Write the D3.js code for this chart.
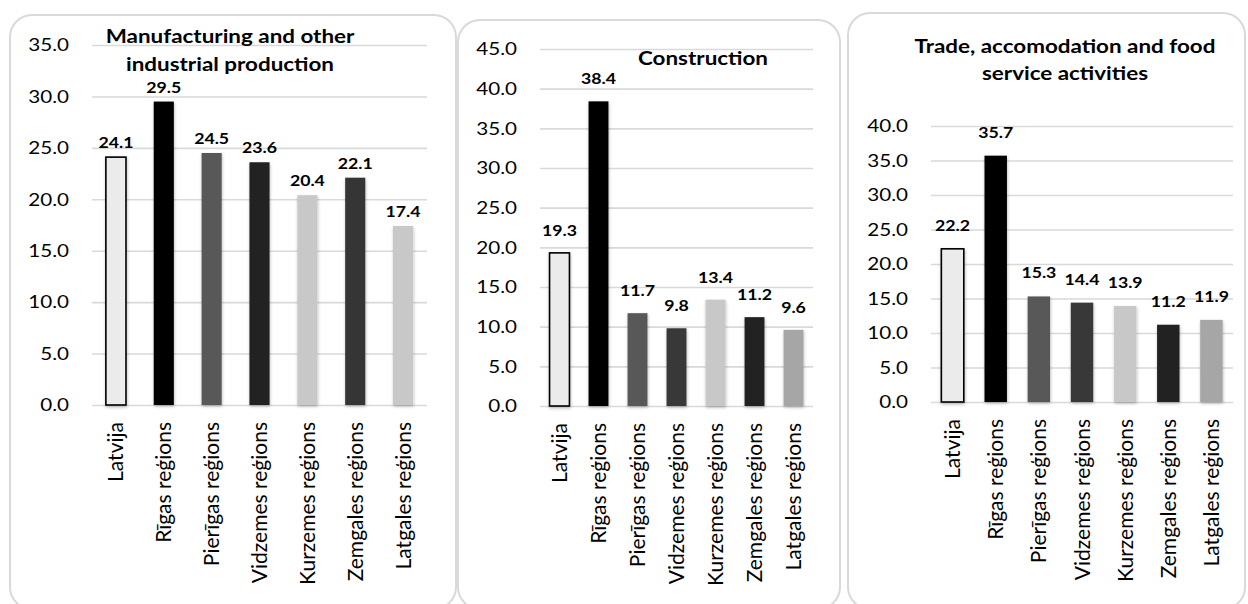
<!DOCTYPE html>
<html>
<head>
<meta charset="utf-8">
<script src="https://cdn.jsdelivr.net/npm/d3@7"></script>
<style>
  body { margin: 0; background: #fff; }
  svg { display: block; font-family: Lato, "Open Sans", sans-serif; }
  .tick-label { font-size: 17.5px; fill: #000; }
  .cat-label { font-size: 21px; fill: #000; }
  .value-label { font-size: 15px; font-weight: 700; fill: #000; }
  .chart-title { font-size: 19px; font-weight: 700; fill: #000; }
</style>
</head>
<body>
<div id="chart"></div>
<script>
const categories = ['Latvija', 'Rīgas reģions', 'Pierīgas reģions', 'Vidzemes reģions',
  'Kurzemes reģions', 'Zemgales reģions', 'Latgales reģions'];

const manufacturingTitle = ['Manufacturing and other', 'industrial production'];
const manufacturing = [24.1, 29.5, 24.5, 23.6, 20.4, 22.1, 17.4];
const manufacturingTicks = [0, 5, 10, 15, 20, 25, 30, 35];

const constructionTitle = ['Construction'];
const construction = [19.3, 38.4, 11.7, 9.8, 13.4, 11.2, 9.6];
const constructionTicks = [0, 5, 10, 15, 20, 25, 30, 35, 40, 45];

const tradeTitle = ['Trade, accomodation and food', 'service activities'];
const trade = [22.2, 35.7, 15.3, 14.4, 13.9, 11.2, 11.9];
const tradeTicks = [0, 5, 10, 15, 20, 25, 30, 35, 40];

// bar fills per panel (first bar is outlined)
const fillsA = ['#ebebeb', '#000000', '#595959', '#222222', '#c8c8c8', '#363636', '#c8c8c8'];
const fillsB = ['#ebebeb', '#000000', '#595959', '#383838', '#c8c8c8', '#222222', '#a6a6a6'];

// horizontal text in the source is a bit wider than tall
const SX = 1.18;

const width = 1248;
const height = 604;

const svg = d3.select('#chart').append('svg')
  .attr('width', width)
  .attr('height', height);

const defs = svg.append('defs');
defs.append('filter')
  .attr('id', 'barShadow')
  .attr('x', '-30%').attr('y', '-10%')
  .attr('width', '160%').attr('height', '120%')
  .append('feDropShadow')
  .attr('dx', 0.5)
  .attr('dy', 1.5)
  .attr('stdDeviation', 1.6)
  .attr('flood-color', '#000')
  .attr('flood-opacity', 0.28);

const panels = [
  {
    title: manufacturingTitle, values: manufacturing, ticks: manufacturingTicks, fills: fillsA,
    box: { x: 10, y: 15, w: 446, h: 594 },
    plot: { left: 92, right: 427, top: 45, bottom: 405 },
    titleX: 230, titleY: 43, titleLead: 28, labelGap: 9, pad: 0.58
  },
  {
    title: constructionTitle, values: construction, ticks: constructionTicks, fills: fillsB,
    box: { x: 458, y: 20, w: 382, h: 589 },
    plot: { left: 540, right: 813, top: 49, bottom: 406 },
    titleX: 703, titleY: 65, titleLead: 28, labelGap: 17, pad: 0.49
  },
  {
    title: tradeTitle, values: trade, ticks: tradeTicks, fills: fillsB,
    box: { x: 848, y: 13, w: 397, h: 596 },
    plot: { left: 931, right: 1233, top: 126, bottom: 402 },
    titleX: 1065, titleY: 53, titleLead: 27, labelGap: 18, pad: 0.48
  }
];

function wideText(parent, x, y, str, cls, anchor) {
  return parent.append('text')
    .attr('class', cls)
    .attr('text-anchor', anchor || 'middle')
    .attr('transform', `translate(${x},${y}) scale(${SX},1)`)
    .text(str);
}

panels.forEach((p) => {
  const g = svg.append('g');

  // rounded frame
  g.append('rect')
    .attr('x', p.box.x)
    .attr('y', p.box.y)
    .attr('width', p.box.w)
    .attr('height', p.box.h)
    .attr('rx', 22)
    .style('fill', '#fff')
    .style('stroke', '#d9d9d9')
    .style('stroke-width', 2);

  const yMax = d3.max(p.ticks);
  const yScale = d3.scaleLinear()
    .domain([0, yMax])
    .range([p.plot.bottom, p.plot.top]);

  const xScale = d3.scaleBand()
    .domain(categories)
    .range([p.plot.left, p.plot.right])
    .paddingInner(p.pad)
    .paddingOuter(p.pad / 2);

  // gridlines
  const yAxis = d3.axisLeft(yScale)
    .tickValues(p.ticks)
    .tickSize(-(p.plot.right - p.plot.left))
    .tickFormat('');

  const yGrid = g.append('g')
    .attr('transform', `translate(${p.plot.left},0)`)
    .call(yAxis);
  yGrid.select('.domain').remove();
  yGrid.selectAll('.tick line')
    .style('stroke', '#d9d9d9')
    .style('stroke-width', 1.6);

  // tick labels
  p.ticks.forEach((t) => {
    wideText(g, p.plot.left - 23, yScale(t), d3.format('.1f')(t), 'tick-label', 'end')
      .attr('dy', '0.36em');
  });

  // title
  p.title.forEach((line, i) => {
    wideText(g, p.titleX, p.titleY + i * p.titleLead, line, 'chart-title');
  });

  // bars
  g.append('g')
    .selectAll('rect')
    .data(p.values)
    .join('rect')
    .attr('x', (d, i) => xScale(categories[i]))
    .attr('y', (d) => yScale(d))
    .attr('width', xScale.bandwidth())
    .attr('height', (d) => yScale(0) - yScale(d))
    .style('fill', (d, i) => p.fills[i])
    .style('stroke', (d, i) => (i === 0 ? '#000' : 'none'))
    .style('stroke-width', 1.6)
    .attr('filter', 'url(#barShadow)');

  // value labels
  p.values.forEach((v, i) => {
    wideText(g, xScale(categories[i]) + xScale.bandwidth() / 2, yScale(v) - p.labelGap,
      d3.format('.1f')(v), 'value-label');
  });

  // category labels, rotated
  categories.forEach((c) => {
    g.append('text')
      .attr('class', 'cat-label')
      .attr('text-anchor', 'end')
      .attr('dy', '0.36em')
      .attr('transform', `translate(${xScale(c) + xScale.bandwidth() / 2},${p.plot.bottom + 17}) rotate(-90)`)
      .text(c);
  });
});
</script>
</body>
</html>
